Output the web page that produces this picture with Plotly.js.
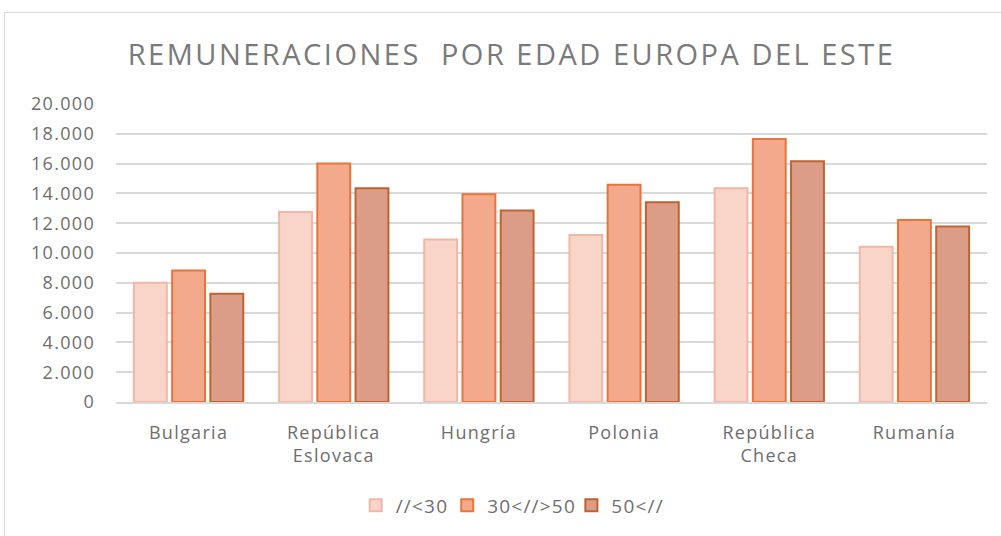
<!DOCTYPE html>
<html>
<head>
<meta charset="utf-8">
<script src="https://cdn.plot.ly/plotly-3.0.1.min.js"></script>
<style>
html,body{margin:0;padding:0;background:#fff;}
#wrap{position:relative;width:1001px;height:536px;}
#chart{width:1001px;height:536px;}
#frame{position:absolute;left:4px;top:12px;width:1000px;height:540px;border:1px solid #d9d9d9;pointer-events:none;box-sizing:border-box;}
#chart .gtitle{letter-spacing:2.5px;}
#chart .xtick text, #chart .ytick text{letter-spacing:1.3px;}
#chart .legendtext{letter-spacing:1.2px;}
</style>
</head>
<body>
<div id="wrap"><div id="chart"></div><div id="frame"></div></div>
<script>
const categories = ["Bulgaria", "República<br>Eslovaca", "Hungría", "Polonia", "República<br>Checa", "Rumanía"];
const seriesNames = ["//<30", "30<//>50", "50<//"];
const under30 = [8000, 12750, 10900, 11200, 14350, 10420];
const between30and50 = [8820, 16000, 13950, 14580, 17650, 12220];
const over50 = [7270, 14350, 12850, 13400, 16150, 11780];
const yTicks = [0, 2000, 4000, 6000, 8000, 10000, 12000, 14000, 16000, 18000, 20000];

const fills = ["#f8d4c9", "#f3aa8c", "#dc9d88"];
const lines = ["#f0b7a4", "#e8743b", "#c0632f"];
const values = [under30, between30and50, over50];

const traces = values.map((v, i) => ({
  type: "bar",
  name: seriesNames[i],
  x: categories,
  y: v,
  marker: { color: fills[i], line: { color: lines[i], width: 2 } },
  hoverinfo: "x+y"
}));

const font = "'Open Sans', sans-serif";
const layout = {
  width: 1001, height: 536,
  paper_bgcolor: "#fff", plot_bgcolor: "#fff",
  separators: ",.",
  margin: { l: 116, r: 14, t: 104, b: 132 },
  title: {
    text: "REMUNERACIONES  POR EDAD EUROPA DEL ESTE",
    font: { family: font, size: 29, color: "#7a7a7a" },
    x: 0.511, xanchor: "center", y: 0.897, yanchor: "middle"
  },
  barmode: "group",
  bargap: 0.21,
  bargroupgap: 0.14,
  xaxis: {
    tickfont: { family: font, size: 18, color: "#6e6e6e" },
    showline: true, linecolor: "#d9d9d9", linewidth: 2,
    ticks: "", showgrid: false, fixedrange: true,
    ticklabelstandoff: 13
  },
  yaxis: {
    range: [0, 20000],
    tickvals: yTicks,
    tickformat: ",.0f",
    tickfont: { family: font, size: 18, color: "#6e6e6e" },
    gridcolor: "#d9d9d9", gridwidth: 2,
    zeroline: false, showline: false, ticks: "",
    ticklabelstandoff: 20,
    fixedrange: true
  },
  legend: {
    orientation: "h", x: 0.452, xanchor: "center", y: -0.347, yanchor: "middle",
    font: { family: font, size: 19, color: "#6e6e6e" },
    traceorder: "normal", itemwidth: 30
  },
  showlegend: true
};

Plotly.newPlot("chart", traces, layout, { displayModeBar: false, staticPlot: true });
</script>
</body>
</html>
